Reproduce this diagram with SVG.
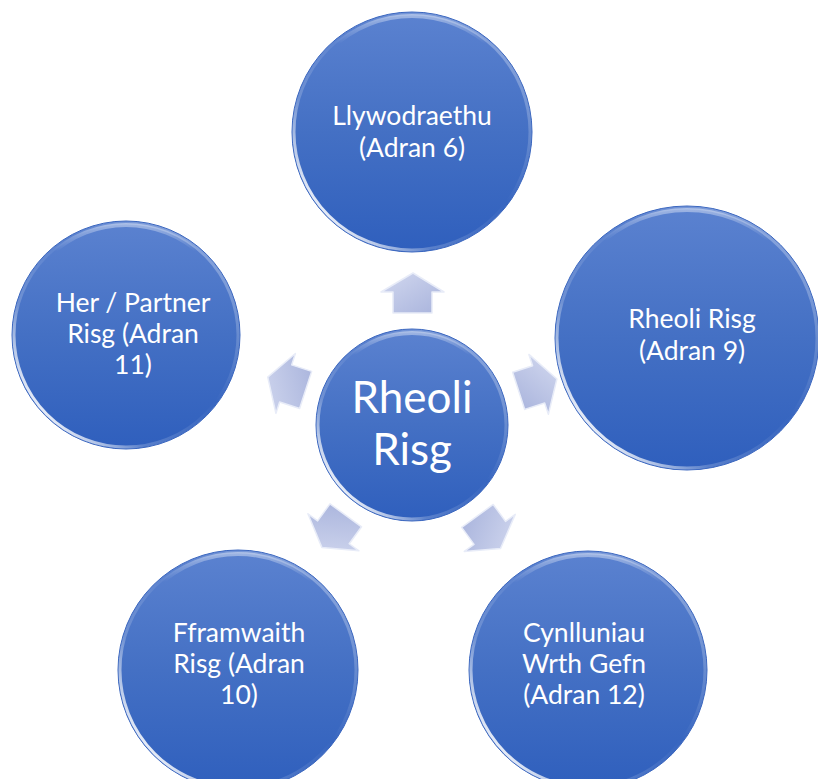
<svg xmlns="http://www.w3.org/2000/svg" width="818" height="779" viewBox="0 0 818 779">
<defs>
<linearGradient id="fillG" x1="0" y1="0" x2="0" y2="1">
<stop offset="0" stop-color="#5b82d0"/>
<stop offset="0.5" stop-color="#4470c4"/>
<stop offset="1" stop-color="#2f5fbd"/>
</linearGradient>
<linearGradient id="rimG" x1="0.1" y1="0.85" x2="0.9" y2="0.15">
<stop offset="0" stop-color="#ffffff" stop-opacity="0.95"/>
<stop offset="0.25" stop-color="#ffffff" stop-opacity="0.2"/>
<stop offset="0.6" stop-color="#ffffff" stop-opacity="0"/>
<stop offset="1" stop-color="#ffffff" stop-opacity="0.3"/>
</linearGradient>
<linearGradient id="topG" x1="0" y1="0" x2="0" y2="1">
<stop offset="0" stop-color="#ffffff" stop-opacity="0.4"/>
<stop offset="0.12" stop-color="#ffffff" stop-opacity="0"/>
<stop offset="1" stop-color="#ffffff" stop-opacity="0"/>
</linearGradient>
<linearGradient id="arrowG" x1="0" y1="0" x2="1" y2="1">
<stop offset="0" stop-color="#d2d8ef"/>
<stop offset="1" stop-color="#a8b3dc"/>
</linearGradient>
<path id="arrow" d="M1,-152 L32,-133 L20,-133 L20,-112 L-19,-112 L-19,-133 L-31,-133 Z"/>
</defs>
<style>
.c{fill:url(#fillG);stroke:#3a66bf;stroke-width:1;}
.rim{fill:none;stroke:url(#rimG);stroke-width:3;}
.hl{fill:none;stroke:url(#topG);stroke-width:4;}
.t{font-family:Lato,"Open Sans","Liberation Sans",sans-serif;fill:#ffffff;font-size:26.5px;text-anchor:middle;}
.tc{font-size:44px;}
.ar{fill:url(#arrowG);stroke:#e8ecf8;stroke-width:1.5;stroke-linejoin:round;}
</style>
<rect width="818" height="779" fill="#ffffff"/>
<g id="connectors">
<use href="#arrow" class="ar" transform="translate(412,425) rotate(0)"/>
<use href="#arrow" class="ar" transform="translate(412,425) rotate(72)"/>
<use href="#arrow" class="ar" transform="translate(412,425) rotate(144)"/>
<use href="#arrow" class="ar" transform="translate(412,425) rotate(216)"/>
<use href="#arrow" class="ar" transform="translate(412,425) rotate(288)"/>
</g>
<g id="node-center">
<circle class="c" cx="412" cy="425" r="96"/>
<circle class="rim" cx="412" cy="425" r="94"/>
<circle class="hl" cx="412" cy="425" r="92"/>
<text class="t tc" x="412" y="413">Rheoli</text>
<text class="t tc" x="412" y="465">Risg</text>
</g>
<g id="node-top">
<circle class="c" cx="412" cy="132" r="120"/>
<circle class="rim" cx="412" cy="132" r="118"/>
<circle class="hl" cx="412" cy="132" r="116"/>
<text class="t" x="412" y="125">Llywodraethu</text>
<text class="t" x="412" y="157">(Adran 6)</text>
</g>
<g id="node-right">
<circle class="c" cx="687" cy="338" r="132"/>
<circle class="rim" cx="687" cy="338" r="130"/>
<circle class="hl" cx="687" cy="338" r="128"/>
<text class="t" x="692" y="328">Rheoli Risg</text>
<text class="t" x="692" y="360">(Adran 9)</text>
</g>
<g id="node-bottom-right">
<circle class="c" cx="588" cy="670" r="119"/>
<circle class="rim" cx="588" cy="670" r="117"/>
<circle class="hl" cx="588" cy="670" r="115"/>
<text class="t" x="584" y="642">Cynlluniau</text>
<text class="t" x="584" y="673">Wrth Gefn</text>
<text class="t" x="584" y="704">(Adran 12)</text>
</g>
<g id="node-bottom-left">
<circle class="c" cx="238" cy="670" r="120"/>
<circle class="rim" cx="238" cy="670" r="118"/>
<circle class="hl" cx="238" cy="670" r="116"/>
<text class="t" x="239" y="642">Fframwaith</text>
<text class="t" x="239" y="673">Risg (Adran</text>
<text class="t" x="239" y="704">10)</text>
</g>
<g id="node-left">
<circle class="c" cx="126" cy="335" r="114"/>
<circle class="rim" cx="126" cy="335" r="112"/>
<circle class="hl" cx="126" cy="335" r="110"/>
<text class="t" x="133" y="312">Her / Partner</text>
<text class="t" x="133" y="343">Risg (Adran</text>
<text class="t" x="133" y="374">11)</text>
</g>
</svg>
